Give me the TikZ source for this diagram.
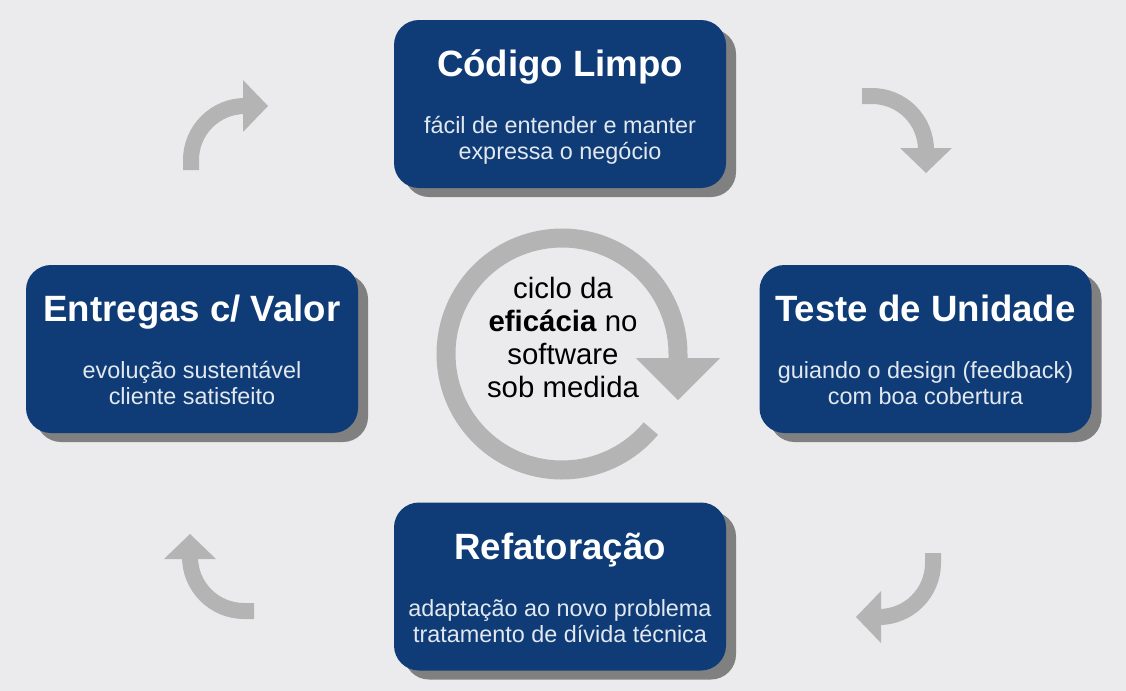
\documentclass[tikz,border=0pt]{standalone}
\usepackage{fontspec}
\setmainfont{Liberation Sans}
\usetikzlibrary{shadows, positioning}

\definecolor{navy}{HTML}{0F3C77}
\definecolor{bggray}{HTML}{EBEBED}
\definecolor{ringgray}{HTML}{B4B4B4}

% title + two lines of a stage box
\newcommand{\stagetext}[3]{%
    {\fontsize{18.3}{22}\selectfont\bfseries\color{white}\rule{0pt}{18pt}#1}\\[15.5pt]
    #2\\ #3\strut}

\begin{document}
\begin{tikzpicture}[
    x=0.5pt, y=-0.5pt,
        base/.style = {rounded corners=12.5pt, minimum width=166pt, minimum height=84pt,
                       align=center, inner sep=0pt},
        stage/.style = {base, fill=navy, text=white!88!navy,
                        font=\fontsize{11.7}{13}\selectfont,
                        drop shadow={shadow xshift=5pt, shadow yshift=-4.5pt,
                                     fill=black!50, opacity=1}},
        hubtext/.style = {align=center, font=\fontsize{14.7}{16.5}\selectfont},
        ring/.style = {draw=ringgray, line width=9.5pt},
        turnline/.style = {draw=ringgray, line width=8pt},
        turnfill/.style = {fill=ringgray},
        pics/turn/.style = {code={
            \draw[turnline] (-54,10) -- (-54,0) arc[start angle=180, end angle=270, radius=54];
            \fill[turnfill] (-2,-80) -- (23,-54) -- (-2,-28) -- cycle;
        }}
        ]

    % background
    \fill[bggray] (0,0) rectangle (1126,691);
    \useasboundingbox (0,0) rectangle (1126,691);

    % the four stages
    \node[stage] (limpo)   at (560,104)   {\stagetext{Código Limpo}{fácil de entender e manter}{expressa o negócio}};
    \node[stage] (teste)   at (925.5,349) {\stagetext{Teste de Unidade}{guiando o design (feedback)}{com boa cobertura}};
    \node[stage] (refator) at (560,586.5) {\stagetext{Refatoração}{adaptação ao novo problema}{tratamento de dívida técnica}};
    \node[stage] (entrega) at (192,349)   {\stagetext{Entregas c/ Valor}{evolução sustentável}{cliente satisfeito}};

    % centre: the cycle
    \coordinate (hub) at (562,354);
    \node[hubtext] (cycle) at (563,337) {ciclo da\\\textbf{eficácia} no\\software\\sob medida};
    \draw[ring] (hub) ++(40:116) arc[start angle=40, end angle=360, radius=116] -- ++(0,6);
    \fill[ringgray] ([shift={(74,4)}]hub) -- ([shift={(158,4)}]hub) -- ([shift={(116,46)}]hub) -- cycle;

    % small turning arrows between the stages
    \pic               at (245,160) {turn};
    \pic[rotate=-90]   at (872,150) {turn};
    \pic[rotate=180]   at (879,563) {turn};
    \pic[rotate=90]    at (244,557) {turn};

\end{tikzpicture}
\end{document}
